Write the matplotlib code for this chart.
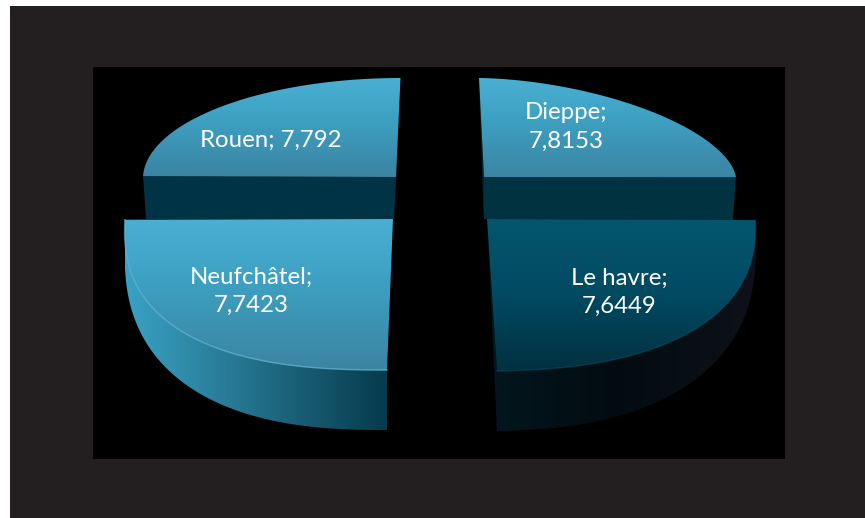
import numpy as np
import matplotlib
matplotlib.use("Agg")
import matplotlib.pyplot as plt
from matplotlib.colors import LinearSegmentedColormap
from matplotlib.patches import Polygon, Rectangle

# data
categories = ["Dieppe", "Le havre", "Neufchâtel", "Rouen"]
values = [7.8153, 7.6449, 7.7423, 7.792]
value_labels = ["7,8153", "7,6449", "7,7423", "7,792"]
label_breaks = [";\n", ";\n", ";\n", "; "]

# per-wedge projection: apex, radial vector at start and at 90 degrees, arc squareness
geometry = {
    "Dieppe":     dict(apex=(484, 177), u=(-5, -99), v=(252, 1), n=1.75),
    "Le havre":   dict(apex=(487, 219), u=(10, 152), v=(268, -5), n=2.4),
    "Neufchâtel": dict(apex=(393, 219), u=(-6, 151), v=(-268, 0), n=2.5),
    "Rouen":      dict(apex=(396, 177), u=(4.5, -99), v=(-253, 0), n=2.0),
}
label_pos = {"Dieppe": (566, 127), "Le havre": (619, 292),
             "Neufchâtel": (251, 291), "Rouen": (271, 140)}

fig = plt.figure(figsize=(8.65, 5.18), dpi=100, facecolor="white")
ax = fig.add_axes([0, 0, 1, 1])
ax.set_xlim(0, 865)
ax.set_ylim(518, 0)
ax.axis("off")
ax.add_patch(Rectangle((10, 6), 855, 512, fc="#231f20", ec="none", zorder=0))
ax.add_patch(Rectangle((93, 67), 692, 392, fc="#000000", ec="none", zorder=0))


def arc(name, frac):
    g = geometry[name]
    span = 2 * np.pi * frac
    t = np.linspace(0, span, 120)
    c = np.abs(np.cos(t)) ** (2 / g["n"])
    s = np.abs(np.sin(t)) ** (2 / g["n"])
    a, u, v = np.array(g["apex"]), np.array(g["u"]), np.array(g["v"])
    pts = a + np.outer(c, u) + np.outer(s, v)
    return pts, c


def grad(poly, stops, z, horizontal=False):
    poly = np.asarray(poly)
    cm = LinearSegmentedColormap.from_list("g", stops)
    x0, y0 = poly.min(axis=0)
    x1, y1 = poly.max(axis=0)
    arr = np.linspace(0, 1, 256)
    arr = arr[None, :] if horizontal else arr[:, None]
    im = ax.imshow(arr, cmap=cm, extent=(x0, x1, y1, y0), origin="upper",
                   aspect="auto", zorder=z, interpolation="bilinear")
    p = Polygon(poly, closed=True, fc="none", ec="none", zorder=z)
    ax.add_patch(p)
    im.set_clip_path(p)


LIGHT = [(0, "#4aafd2"), (0.35, "#3ea3c5"), (1, "#3b84a2")]
total = sum(values)
fracs = {c: v / total for c, v in zip(categories, values)}

# rear wedges
for name, inner, strip in [("Rouen", "#003345", "#06303f"), ("Dieppe", "#00323f", "#02262f")]:
    pts, _ = arc(name, fracs[name])
    ap = np.array(geometry[name]["apex"], float)
    far = pts[-1]
    face = [far, ap, ap + (-2 if name == "Rouen" else 0, 42), far + (3 if name == "Rouen" else -3, 43)]
    ax.add_patch(Polygon(face, closed=True, fc=inner, ec="none", zorder=1))
    ax.add_patch(Polygon([pts[0], ap, ap + (-2 if name == "Rouen" else 0, 52)],
                         closed=True, fc=strip, ec="none", zorder=1))
    grad(np.vstack([[ap], pts]), LIGHT, 2)

# front wedges
sides = {
    "Neufchâtel": [(0, "#3aa2c5"), (0.35, "#2a7f9c"), (0.7, "#175a70"), (1, "#063a4c")],
    "Le havre": [(0, "#02161d"), (0.45, "#020c10"), (1, "#0e1119")],
}
tops = {
    "Neufchâtel": LIGHT,
    "Le havre": [(0, "#04566f"), (0.5, "#024a62"), (1, "#01303f")],
}
for name in ["Neufchâtel", "Le havre"]:
    pts, c = arc(name, fracs[name])
    ap = np.array(geometry[name]["apex"], float)
    depth = 22 + 38 * c
    low = pts + np.column_stack([np.zeros_like(depth), depth])
    grad(np.vstack([pts, low[::-1]]), sides[name], 3, horizontal=True)
    grad(np.vstack([[ap], pts]), tops[name], 4)
    rim = "#63b6d2" if name == "Neufchâtel" else "#0d6f8c"
    ax.plot(pts[:, 0], pts[:, 1], color=rim, lw=1.0, zorder=5,
            alpha=0.8 if name == "Neufchâtel" else 0.35)
    if name == "Le havre":
        ax.add_patch(Polygon([ap, pts[0], low[0]], closed=True, fc="#02161d", ec="none", zorder=3))

ax.set_xlim(0, 865)
ax.set_ylim(518, 0)

for cat, lab, br in zip(categories, value_labels, label_breaks):
    x, y = label_pos[cat]
    ax.text(x, y, f"{cat}{br}{lab}", color="white", fontsize=17.3, family="Lato",
            ha="center", va="center", linespacing=1.42, zorder=10, multialignment="center")

fig.savefig("out.png", dpi=100, facecolor="white")
